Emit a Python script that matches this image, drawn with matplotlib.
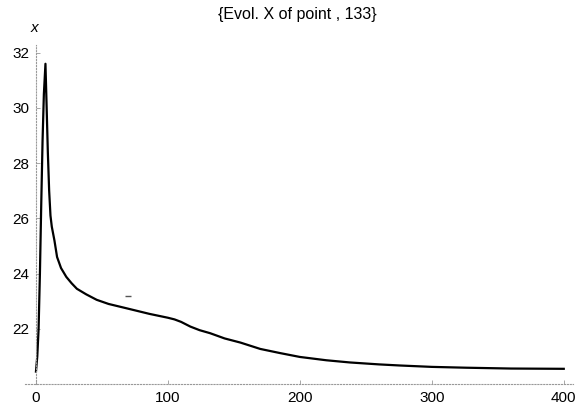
import matplotlib.pyplot as plt

# time steps and X value of point 133
t = [0, 1, 2, 3, 4, 5, 6, 7.2, 8, 9, 10, 11, 12, 14, 16, 19, 23, 27, 31, 38,
     46, 55, 68, 86, 100, 105, 110, 117, 124, 132, 143, 155, 170, 185, 200,
     220, 238, 260, 276, 300, 326, 360, 400]
x = [20.45, 21.0, 22.0, 24.0, 26.5, 28.8, 30.5, 31.6, 30.2, 28.4, 27.0, 26.1,
     25.7, 25.2, 24.6, 24.2, 23.88, 23.65, 23.45, 23.25, 23.05, 22.9, 22.75,
     22.54, 22.4, 22.34, 22.25, 22.08, 21.95, 21.84, 21.65, 21.5, 21.27,
     21.12, 20.98, 20.86, 20.78, 20.71, 20.67, 20.62, 20.59, 20.56, 20.55]

# stray speck on the scan
speck_t = [70]
speck_x = [23.17]

yticks = [22, 24, 26, 28, 30, 32]
xticks = [0, 100, 200, 300, 400]

plt.rcParams['font.family'] = ['Liberation Sans', 'DejaVu Sans']

fig = plt.figure(figsize=(5.87, 4.08), dpi=100)
ax = fig.add_axes([25.4 / 587, 24 / 408, (573 - 25.4) / 587, (384 - 45) / 408])

ax.plot(t, x, color='black', lw=1.6, solid_joinstyle='round')
ax.plot(speck_t, speck_x, marker='_', color='#555555', ms=4, mew=1, ls='none')

ax.set_xlim(-8, 407)
ax.set_ylim(20.0, 32.28)

for s in ['top', 'right']:
    ax.spines[s].set_visible(False)
ax.spines['left'].set_position(('data', 0))
for s in ['left', 'bottom']:
    ax.spines[s].set_color('#999999')
    ax.spines[s].set_linewidth(0.8)
    ax.spines[s].set_linestyle(':')

ax.set_xticks(xticks)
ax.set_yticks(yticks)
ax.tick_params(direction='in', length=3, width=0.6, color='#999999',
               labelsize=11, pad=5)

fig.text(297 / 587, 1 - 15 / 408, '{Evol. X of point , 133}', ha='center',
         va='center', fontsize=11.5)
fig.text(34 / 587, 1 - 28 / 408, 'x', ha='center', va='center',
         fontsize=11, style='italic')

plt.savefig('out.png', dpi=100)
